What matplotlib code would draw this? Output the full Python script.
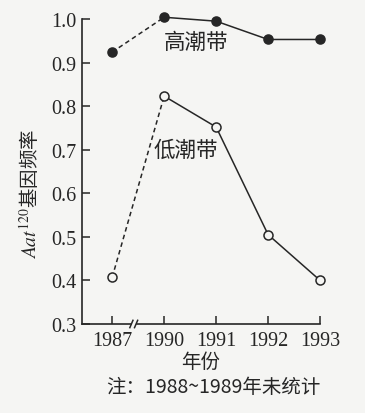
import matplotlib
matplotlib.use("Agg")
import matplotlib.pyplot as plt

years = ["1987", "1990", "1991", "1992", "1993"]
high_tide = [0.924, 1.004, 0.995, 0.953, 0.953]
low_tide = [0.407, 0.823, 0.752, 0.505, 0.400]
yticks = [0.3, 0.4, 0.5, 0.6, 0.7, 0.8, 0.9, 1.0]

plt.rcParams['mathtext.fontset'] = 'stix'
cjk = ['Noto Sans CJK SC', 'DejaVu Sans']
serif = ['Liberation Serif', 'DejaVu Serif']
ink = '#262626'
bg = '#f5f5f3'

fig = plt.figure(figsize=(3.65, 4.14), dpi=100, facecolor=bg)
ax = fig.add_axes([0.2247, 0.215, 0.877 - 0.2247, 0.9517 - 0.215])
ax.set_facecolor(bg)
x = list(range(len(years)))

for series, face in ((high_tide, ink), (low_tide, bg)):
    ax.plot(x[:2], series[:2], ls=(0, (3, 2.2)), lw=1.1, color=ink, clip_on=False, zorder=2)
    ax.plot(x[1:], series[1:], ls='-', lw=1.1, color=ink, clip_on=False, zorder=2)
    ax.plot(x, series, ls='none', marker='o', ms=6.5, mfc=face, mec=ink, mew=1.1,
            clip_on=False, zorder=3)

ax.set_xlim(-0.58, 4)
ax.set_ylim(0.3, 1.0)
ax.set_xticks(x)
ax.set_xticklabels(years)
ax.set_yticks(yticks)
ax.set_yticklabels([f"{v:.1f}" for v in yticks])
for lab in ax.get_xticklabels() + ax.get_yticklabels():
    lab.set_fontfamily(serif)
    lab.set_fontsize(14.5)
    lab.set_color(ink)
ax.tick_params(direction='in', length=6, width=1.1, color=ink)
ax.tick_params(axis='x', pad=5)
ax.tick_params(axis='y', pad=4)

for s in ('top', 'right', 'bottom'):
    ax.spines[s].set_visible(False)
ax.spines['left'].set_linewidth(1.2)
ax.spines['left'].set_color(ink)

# broken x axis
trans = ax.get_xaxis_transform()
ax.plot([-0.58, 0.36], [0, 0], color=ink, lw=1.2, transform=trans, clip_on=False)
ax.plot([0.47, 4], [0, 0], color=ink, lw=1.2, transform=trans, clip_on=False)
for dx in (0.34, 0.43):
    ax.plot([dx, dx + 0.06], [-0.012, 0.012], color=ink, lw=1.1, transform=trans, clip_on=False)

ax.text(1.62, 0.947, "高潮带", fontfamily=cjk, fontsize=15.5, color=ink, ha='center', va='center')
ax.text(1.41, 0.70, "低潮带", fontfamily=cjk, fontsize=15.5, color=ink, ha='center', va='center')

fig.text(30 / 365, 1 - 194 / 414, r"$\mathit{Aat}^{120}$基因频率", fontfamily=cjk, fontsize=14,
         color=ink, rotation=90, ha='center', va='center')
ax.set_xlabel("年份", fontfamily=cjk, fontsize=14, color=ink, labelpad=1)

fig.text(0.585, 1 - 388 / 414, "注：1988~1989年未统计", fontfamily=cjk, fontsize=14, color=ink,
         ha='center', va='center')

fig.savefig("out.png", dpi=100, facecolor=bg)
